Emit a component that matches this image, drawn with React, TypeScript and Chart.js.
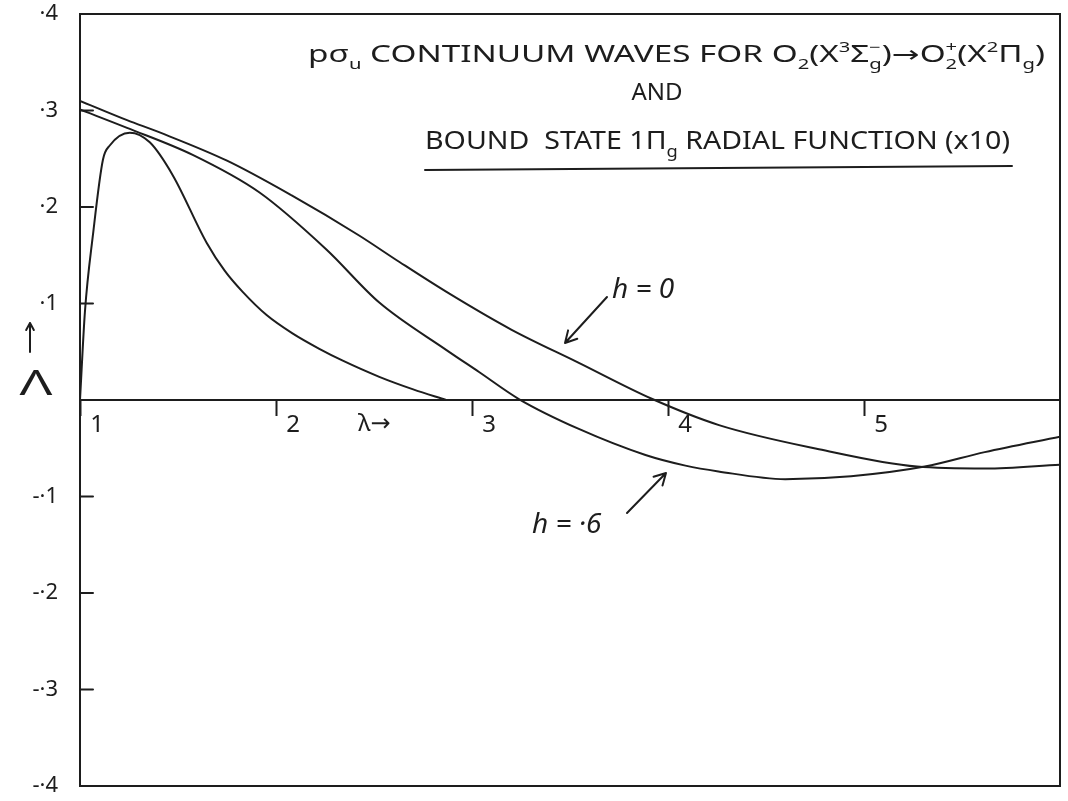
import { useEffect, useRef } from 'react';
import { Chart, registerables } from 'chart.js';

Chart.register(...registerables);

// Internuclear coordinate λ and the two continuum waves (h = 0 and h = 0.6)
const lambdaH0 = [1.0, 1.24, 1.41, 1.75, 2.08, 2.42, 2.63, 2.87, 3.2, 3.54, 3.92, 4.26, 4.77, 5.27, 5.62, 6.0];
const waveH0 = [0.31, 0.29, 0.277, 0.248, 0.212, 0.171, 0.143, 0.112, 0.073, 0.039, 0.001, -0.026, -0.051, -0.069, -0.071, -0.067];

const lambdaH06 = [1.0, 1.24, 1.575, 1.916, 2.257, 2.527, 2.868, 3.036, 3.239, 3.545, 3.885, 4.089, 4.257, 4.598, 4.934, 5.31, 5.616, 6.0];
const waveH06 = [0.301, 0.282, 0.254, 0.215, 0.156, 0.101, 0.052, 0.029, 0.001, -0.03, -0.057, -0.068, -0.074, -0.082, -0.079, -0.069, -0.054, -0.038];

// Bound state 1πg radial function, scaled ×10
const lambdaBound = [1.0, 1.025, 1.066, 1.117, 1.153, 1.254, 1.356, 1.473, 1.646, 1.738, 1.83, 1.952, 2.084, 2.221, 2.338, 2.527, 2.7, 2.868];
const waveBound = [0, 0.091, 0.171, 0.249, 0.264, 0.277, 0.267, 0.233, 0.163, 0.134, 0.112, 0.088, 0.069, 0.053, 0.041, 0.024, 0.011, 0.0];

const xTickValues = [1, 2, 3, 4, 5];
const xTickLabels = ['1', '2', '3', '4', '5'];
const yTickValues = [-0.4, -0.3, -0.2, -0.1, 0, 0.1, 0.2, 0.3, 0.4];
const yTickLabels = ['-·4', '-·3', '-·2', '-·1', '', '·1', '·2', '·3', '·4'];

const INK = '#1d1d1d';
const FAMILY = '"Noto Sans", "DejaVu Sans", sans-serif';

type Run = { t: string; k?: 'sub' | 'sup'; stack?: boolean };

const titleLine1: Run[] = [
  { t: 'pσ' }, { t: 'u', k: 'sub' }, { t: ' CONTINUUM WAVES FOR O' }, { t: '2', k: 'sub' },
  { t: '(X' }, { t: '3', k: 'sup' }, { t: 'Σ' }, { t: '−', k: 'sup', stack: true }, { t: 'g', k: 'sub' },
  { t: ')→O' }, { t: '+', k: 'sup', stack: true }, { t: '2', k: 'sub' }, { t: '(X' }, { t: '2', k: 'sup' },
  { t: 'Π' }, { t: 'g', k: 'sub' }, { t: ')' },
];
const titleLine2 = 'AND';
const titleLine3: Run[] = [
  { t: 'BOUND  STATE 1Π' }, { t: 'g', k: 'sub' }, { t: ' RADIAL FUNCTION (x10)' },
];

const toPoints = (xs: number[], ys: number[]) => xs.map((x, i) => ({ x, y: ys[i] }));

function runFont(r: Run, size: number) {
  const s = r.k ? Math.round(size * 0.62) : size;
  return `${s}px ${FAMILY}`;
}

function drawRuns(ctx: CanvasRenderingContext2D, runs: Run[], x0: number, baseline: number, size: number, width: number) {
  let total = 0;
  runs.forEach((r) => {
    ctx.font = runFont(r, size);
    if (!r.stack) total += ctx.measureText(r.t).width;
  });
  const sx = width / total;
  ctx.save();
  ctx.translate(x0, baseline);
  ctx.scale(sx, 1);
  ctx.textAlign = 'left';
  ctx.textBaseline = 'alphabetic';
  let x = 0;
  runs.forEach((r) => {
    ctx.font = runFont(r, size);
    const dy = r.k === 'sub' ? size * 0.3 : r.k === 'sup' ? -size * 0.45 : 0;
    ctx.fillText(r.t, x, dy);
    if (!r.stack) x += ctx.measureText(r.t).width;
  });
  ctx.restore();
}

function arrow(ctx: CanvasRenderingContext2D, x1: number, y1: number, x2: number, y2: number, head = 11) {
  const ang = Math.atan2(y2 - y1, x2 - x1);
  ctx.beginPath();
  ctx.moveTo(x1, y1);
  ctx.lineTo(x2, y2);
  ctx.moveTo(x2, y2);
  ctx.lineTo(x2 - head * Math.cos(ang - 0.5), y2 - head * Math.sin(ang - 0.5));
  ctx.moveTo(x2, y2);
  ctx.lineTo(x2 - head * Math.cos(ang + 0.5), y2 - head * Math.sin(ang + 0.5));
  ctx.stroke();
}

const decorPlugin = {
  id: 'decor',
  afterDraw(chart: any) {
    const { ctx, chartArea: a, scales } = chart;
    const ys = scales.y;
    ctx.save();
    ctx.strokeStyle = INK;
    ctx.fillStyle = INK;
    ctx.lineWidth = 2;
    ctx.lineCap = 'round';

    // frame
    ctx.strokeRect(a.left, a.top, a.right - a.left, a.bottom - a.top);

    // inward tick marks on the ordinate
    ctx.beginPath();
    yTickValues.forEach((v) => {
      if (v === 0 || Math.abs(v) > 0.35) return;
      const py = ys.getPixelForValue(v);
      ctx.moveTo(a.left, py);
      ctx.lineTo(a.left + 13, py);
    });
    ctx.stroke();

    // heading
    drawRuns(ctx, titleLine1, 308, 62, 23, 737);
    ctx.font = `24px ${FAMILY}`;
    ctx.textAlign = 'center';
    ctx.textBaseline = 'alphabetic';
    ctx.fillText(titleLine2, 657, 100);
    drawRuns(ctx, titleLine3, 425, 149, 25, 585);
    ctx.beginPath();
    ctx.moveTo(425, 170);
    ctx.lineTo(1012, 166);
    ctx.stroke();

    // axis names
    ctx.font = `24px ${FAMILY}`;
    ctx.textAlign = 'left';
    ctx.fillText('λ→', 358, 431);
    arrow(ctx, 30, 352, 30, 323, 8);
    ctx.save();
    ctx.translate(36, 395);
    ctx.scale(1.5, 0.95);
    ctx.font = `36px ${FAMILY}`;
    ctx.textAlign = 'center';
    ctx.fillText('Λ', 0, 0);
    ctx.restore();

    // curve labels
    ctx.font = `italic 28px ${FAMILY}`;
    ctx.textAlign = 'left';
    ctx.fillText('h = 0', 612, 298);
    ctx.fillText('h = ·6', 532, 533);
    arrow(ctx, 607, 297, 565, 343, 13);
    arrow(ctx, 627, 513, 666, 473, 13);
    ctx.restore();
  },
};

export default function App() {
  const canvasRef = useRef<HTMLCanvasElement | null>(null);

  useEffect(() => {
    const canvas = canvasRef.current;
    if (!canvas) return;
    const line = (xs: number[], ys: number[]) => ({
      data: toPoints(xs, ys),
      borderColor: INK,
      borderWidth: 2,
      pointRadius: 0,
      fill: false,
      cubicInterpolationMode: 'monotone' as const,
    });
    const chart = new Chart(canvas, {
      type: 'line',
      data: {
        datasets: [
          { label: 'h = 0', ...line(lambdaH0, waveH0) },
          { label: 'h = ·6', ...line(lambdaH06, waveH06) },
          { label: 'bound state', ...line(lambdaBound, waveBound) },
        ],
      },
      options: {
        animation: false,
        responsive: false,
        devicePixelRatio: 1,
        layout: { padding: { top: 14, right: 8, bottom: 15, left: 0 } },
        plugins: {
          legend: { display: false },
          tooltip: { enabled: false },
          title: { display: false },
        },
        scales: {
          x: {
            type: 'linear',
            min: 1,
            max: 6,
            position: { y: 0 } as any,
            afterBuildTicks: (s: any) => {
              s.ticks = xTickValues.map((v) => ({ value: v }));
            },
            afterFit: (s: any) => {
              s.paddingTop = 0;
              s.paddingBottom = 0;
            },
            ticks: {
              autoSkip: false,
              maxRotation: 0,
              labelOffset: 17,
              padding: -4,
              color: INK,
              font: { family: FAMILY, size: 24 },
              callback: (v: any) => xTickLabels[xTickValues.indexOf(Number(v))] ?? '',
            },
            grid: { drawOnChartArea: false, drawTicks: true, tickLength: 15, tickColor: INK, tickWidth: 2 },
            border: { display: true, color: INK, width: 2 },
          },
          y: {
            type: 'linear',
            min: -0.4,
            max: 0.4,
            afterBuildTicks: (s: any) => {
              s.ticks = yTickValues.map((v) => ({ value: v }));
            },
            afterFit: (s: any) => {
              s.width = 80;
              s.paddingTop = 0;
              s.paddingBottom = 0;
            },
            ticks: {
              padding: 14,
              color: INK,
              font: { family: FAMILY, size: 22 },
              callback: (v: any) => {
                const i = yTickValues.findIndex((t) => Math.abs(t - Number(v)) < 1e-6);
                return i >= 0 ? yTickLabels[i] : '';
              },
            },
            grid: { display: false },
            border: { display: false },
          },
        },
      },
      plugins: [decorPlugin],
    });
    return () => chart.destroy();
  }, []);

  return (
    <div style={{ position: 'absolute', left: 0, top: 0, width: 1068, height: 801, background: '#fff' }}>
      <canvas ref={canvasRef} width={1068} height={801} style={{ display: 'block' }} />
    </div>
  );
}
